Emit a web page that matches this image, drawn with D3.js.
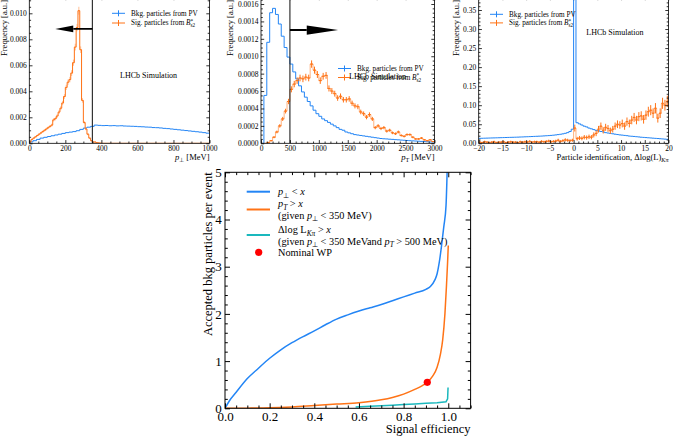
<!DOCTYPE html>
<html>
<head>
<meta charset="utf-8">
<script src="https://cdn.jsdelivr.net/npm/d3@7"></script>
<style>
  body { margin: 0; background: #fff; }
  svg { font-family: "Liberation Serif", "Times New Roman", serif; }
</style>
</head>
<body>
<div id="chart"></div>
<script>
// ---------------- data ----------------
// p_perp [MeV], bkg: 20 MeV bins from 0, sig: 10 MeV bins from 0
const pperpBkg = [
  0.0001, 0.0002, 0.0003, 0.0004, 0.00046, 0.00052, 0.00058, 0.00064, 0.0007, 0.00076,
  0.00082, 0.00086, 0.0009, 0.00097, 0.00107, 0.00117, 0.00124, 0.0013, 0.0014, 0.00138,
  0.00136, 0.00137, 0.00135, 0.00136, 0.00134, 0.00135, 0.00133, 0.00132, 0.00131, 0.0013,
  0.00128, 0.00127, 0.00125, 0.00124, 0.00121, 0.0012, 0.00118, 0.00115, 0.00113, 0.0011,
  0.00107, 0.00104, 0.00101, 0.00098, 0.00095, 0.00092, 0.00089, 0.00086, 0.00082, 0.00078
];
const pperpSig = [
  0.0001, 0.0003, 0.0004, 0.0005, 0.0006, 0.0007, 0.0008, 0.0009, 0.0010, 0.0011,
  0.0012, 0.0013, 0.0014, 0.0018, 0.0019, 0.0021, 0.0024, 0.0027, 0.0031, 0.0036,
  0.0043, 0.0047, 0.0049, 0.0054, 0.0062, 0.0074, 0.0089, 0.0102, 0.0072, 0.0033,
  0.0016, 0.0011, 0.0007, 0.0004, 0.0002, 0.0001, 0.0001, 0.00005, 0.00003, 0.00001,
  0, 0, 0, 0, 0, 0, 0, 0, 0, 0,
  0, 0, 0, 0, 0, 0, 0, 0, 0, 0,
  0, 0, 0, 0, 0, 0, 0, 0, 0, 0,
  0, 0, 0, 0, 0, 0, 0, 0, 0, 0,
  0, 0, 0, 0, 0, 0, 0, 0, 0, 0,
  0, 0, 0, 0, 0, 0, 0, 0, 0, 0
];
// p_T [MeV], 50 MeV bins from 0
const ptBkg = [
  0, 0.00055, 0.00116, 0.0015, 0.00155, 0.00148, 0.00137, 0.00123, 0.0011, 0.00099,
  0.00091, 0.00082, 0.00074, 0.00066, 0.00059, 0.00053, 0.00048, 0.00043, 0.00038, 0.00034,
  0.00031, 0.00028, 0.00026, 0.00024, 0.00022, 0.0002, 0.00018, 0.00016, 0.00015, 0.00013,
  0.00012, 0.00011, 0.0001, 0.000095, 0.00009, 0.000085, 0.00008, 0.000075, 0.00007, 0.000065,
  0.00006, 0.000055, 0.000052, 0.00005, 0.000047, 0.000045, 0.000042, 0.00004, 0.000037, 0.000035,
  0.000032, 0.00003, 0.000028, 0.000026, 0.000024, 0.000022, 0.00002, 0.000018, 0.000016, 0.000015
];
const ptSig = [
  0, 0, 0.00001, 0.00003, 0.00007, 0.00013, 0.0002, 0.00028, 0.00037, 0.00048,
  0.00062, 0.00068, 0.00072, 0.00075, 0.00074, 0.00076, 0.00075, 0.00091, 0.00084, 0.00079,
  0.00072, 0.00077, 0.00078, 0.00063, 0.0006, 0.00057, 0.00052, 0.00054, 0.0005, 0.0005,
  0.00051, 0.00046, 0.00043, 0.00042, 0.00036, 0.00034, 0.0003, 0.00033, 0.00028, 0.00018,
  0.0002, 0.00017, 0.00018, 0.00014, 0.00015, 0.00012, 0.00011, 0.00013, 0.00009, 0.00008,
  0.0001, 0.0001, 0.00007, 0.00005, 0.00005, 0.00006, 0.00004, 0.00003, 0.00004, 0.00002
];
// Delta log L(K-pi), 0.5 bins from -20
const pidBkg = [
  0.0130, 0.0132, 0.0134, 0.0136, 0.0138, 0.0140, 0.0142, 0.0144, 0.0146, 0.0148,
  0.0150, 0.0152, 0.0154, 0.0156, 0.0158, 0.0160, 0.0162, 0.0165, 0.0167, 0.0170,
  0.0172, 0.0175, 0.0178, 0.0181, 0.0184, 0.0187, 0.0190, 0.0194, 0.0198, 0.0202,
  0.0207, 0.0213, 0.0220, 0.0228, 0.0237, 0.0248, 0.0262, 0.0280, 0.0310, 0.0370,
  0.5, 0.054, 0.051, 0.048, 0.045, 0.043, 0.040, 0.038, 0.036, 0.034,
  0.033, 0.031, 0.030, 0.028, 0.027, 0.026, 0.025, 0.024, 0.023, 0.022,
  0.0215, 0.0207, 0.020, 0.019, 0.0185, 0.018, 0.0173, 0.0167, 0.016, 0.0155,
  0.015, 0.0145, 0.014, 0.0135, 0.013, 0.0125, 0.012, 0.0115, 0.011, 0.0105
];
const pidSig = [
  0.003, 0.002, 0.004, 0.003, 0.002, 0.003, 0.004, 0.002, 0.003, 0.003,
  0.004, 0.002, 0.003, 0.004, 0.003, 0.003, 0.002, 0.004, 0.003, 0.004,
  0.003, 0.005, 0.003, 0.004, 0.004, 0.003, 0.005, 0.004, 0.005, 0.006,
  0.004, 0.005, 0.006, 0.008, 0.005, 0.007, 0.009, 0.008, 0.007, 0.008,
  0.040, 0.012, 0.014, 0.013, 0.016, 0.015, 0.017, 0.016, 0.022, 0.026,
  0.037, 0.045, 0.034, 0.042, 0.039, 0.033, 0.037, 0.045, 0.050, 0.048,
  0.052, 0.045, 0.057, 0.052, 0.061, 0.068, 0.061, 0.070, 0.072, 0.063,
  0.074, 0.083, 0.087, 0.079, 0.092, 0.066, 0.079, 0.105, 0.100, 0.110
];
// cuts
const pperpCut = 350, ptCut = 500;

// ROC-like curves: signal efficiency vs accepted bkg per event
const effPperp = [0, 0.02, 0.05, 0.1, 0.15, 0.2, 0.25, 0.3, 0.35, 0.4, 0.45, 0.5, 0.55, 0.6, 0.65, 0.7, 0.75, 0.8, 0.85, 0.9, 0.92, 0.94, 0.95, 0.96, 0.97, 0.98, 0.99, 0.996];
const bkgPperp = [0, 0.16, 0.34, 0.63, 0.85, 1.06, 1.24, 1.39, 1.52, 1.64, 1.77, 1.89, 1.98, 2.06, 2.13, 2.2, 2.28, 2.36, 2.44, 2.52, 2.58, 2.72, 2.85, 3.1, 3.45, 3.85, 4.3, 5.2];
const effPt = [0, 0.1, 0.2, 0.3, 0.4, 0.5, 0.6, 0.7, 0.75, 0.8, 0.85, 0.88, 0.906, 0.93, 0.95, 0.965, 0.975, 0.985, 0.992, 0.997, 1.0];
const bkgPt = [0, 0.003, 0.01, 0.03, 0.06, 0.09, 0.12, 0.18, 0.23, 0.3, 0.4, 0.47, 0.55, 0.68, 0.87, 1.15, 1.45, 2.0, 2.6, 3.1, 3.45];
const effPid = [0.585, 0.65, 0.7, 0.75, 0.8, 0.85, 0.9, 0.95, 0.99, 0.997, 0.999];
const bkgPid = [0.03, 0.045, 0.055, 0.065, 0.08, 0.092, 0.105, 0.12, 0.14, 0.2, 0.44];
const wpEff = 0.906, wpBkg = 0.55;

// ---------------- drawing ----------------
const cBlue = '#2385f5', cOrange = '#ff7316', cTeal = '#1ab8bd', cRed = '#ff0000';
const svg = d3.select('#chart').append('svg').attr('width', 673).attr('height', 436);

function tickVals(dom, step) {
  const out = [];
  const n0 = Math.ceil(dom[0] / step - 1e-6), n1 = Math.floor(dom[1] / step + 1e-6);
  for (let i = n0; i <= n1; i++) out.push(+(i * step).toPrecision(10));
  return out;
}

// rich text with italics / sub / superscripts
function rich(sel, parts, fs) {
  let shift = 0;
  parts.forEach(p => {
    const ts = sel.append('tspan').text(p.t);
    if (p.i) ts.attr('font-style', 'italic');
    const want = p.sub ? fs * 0.28 : p.sup ? -fs * 0.38 : 0;
    if (want !== shift) { ts.attr('dy', want - shift); shift = want; }
    if (p.sub || p.sup) ts.attr('font-size', fs * 0.72);
    if (p.dx) ts.attr('dx', p.dx);
  });
  return sel;
}

function drawAxes(g, x, y, o) {
  const xd = x.domain(), yd = [y.invert(o.bottom), y.invert(o.top)];
  const xMaj = tickVals(xd, o.xMaj), yMaj = tickVals(yd, o.yMaj);
  const xMin = tickVals(xd, o.xMin).filter(v => !xMaj.some(m => Math.abs(m - v) < o.xMin / 100));
  const yMin = tickVals(yd, o.yMin).filter(v => !yMaj.some(m => Math.abs(m - v) < o.yMin / 100));
  const style = s => {
    s.select('.domain').remove();
    s.attr('font-family', null).attr('font-size', o.fs);
    s.selectAll('line').attr('stroke-width', o.sw);
    s.selectAll('text').attr('fill', '#000');
  };
  const mk = (axis, vals, len, fmt, pad) => axis.tickValues(vals).tickSize(-len).tickPadding(pad).tickFormat(fmt);
  const none = () => '';
  // bottom
  g.append('g').attr('transform', `translate(0,${o.bottom})`).call(mk(d3.axisBottom(x), xMaj, o.tMaj, o.xFmt, o.xPad)).call(style);
  g.append('g').attr('transform', `translate(0,${o.bottom})`).call(mk(d3.axisBottom(x), xMin, o.tMin, none, 0)).call(style);
  // top
  g.append('g').attr('transform', `translate(0,${o.top})`).call(mk(d3.axisTop(x), xMaj, o.tMaj, none, 0)).call(style);
  g.append('g').attr('transform', `translate(0,${o.top})`).call(mk(d3.axisTop(x), xMin, o.tMin, none, 0)).call(style);
  // left
  g.append('g').attr('transform', `translate(${o.left},0)`).call(mk(d3.axisLeft(y), yMaj, o.tMaj, o.yFmt, o.yPad)).call(style);
  g.append('g').attr('transform', `translate(${o.left},0)`).call(mk(d3.axisLeft(y), yMin, o.tMin, none, 0)).call(style);
  // right
  g.append('g').attr('transform', `translate(${o.right},0)`).call(mk(d3.axisRight(y), yMaj, o.tMaj, none, 0)).call(style);
  g.append('g').attr('transform', `translate(${o.right},0)`).call(mk(d3.axisRight(y), yMin, o.tMin, none, 0)).call(style);
  g.append('rect').attr('x', o.left).attr('y', o.top)
    .attr('width', o.right - o.left).attr('height', o.bottom - o.top)
    .attr('fill', 'none').attr('stroke', '#000').attr('stroke-width', o.sw);
}

function histPanel(o) {
  const g = svg.append('g');
  const x = d3.scaleLinear().domain(o.xDom).range([o.left, o.right]);
  const y = d3.scaleLinear().domain([0, o.yRef]).range([o.bottom, o.yRefPx]);
  const clipId = 'clip-' + o.id;
  g.append('clipPath').attr('id', clipId).append('rect')
    .attr('x', o.left).attr('y', o.top).attr('width', o.right - o.left).attr('height', o.bottom - o.top);
  const plot = g.append('g').attr('clip-path', `url(#${clipId})`);

  const stepLine = d3.line().x(d => x(d[0])).y(d => y(d[1])).curve(d3.curveStepAfter);
  const stepPts = h => {
    const pts = h.vals.map((v, i) => [h.start + i * h.w, v]);
    pts.push([h.start + h.vals.length * h.w, h.vals[h.vals.length - 1]]);
    return pts;
  };

  // background (blue) histogram
  plot.append('path').datum(stepPts(o.bkg)).attr('d', stepLine)
    .attr('fill', 'none').attr('stroke', cBlue).attr('stroke-width', 1);

  // signal (orange) histogram + error bars
  plot.append('path').datum(stepPts(o.sig)).attr('d', stepLine)
    .attr('fill', 'none').attr('stroke', cOrange).attr('stroke-width', 1).attr('opacity', o.sigLineOp);
  const eb = plot.append('g').attr('stroke', cOrange).attr('stroke-width', 1).attr('opacity', o.errOp);
  o.sig.vals.forEach((v, i) => {
    if (v <= 0) return;
    const c = o.sig.start + (i + 0.5) * o.sig.w;
    const e = o.sig.errK * Math.sqrt(v);
    eb.append('line').attr('x1', x(c)).attr('x2', x(c)).attr('y1', y(v - e)).attr('y2', y(v + e));
    eb.append('line').attr('x1', x(c - o.sig.w / 2)).attr('x2', x(c + o.sig.w / 2)).attr('y1', y(v)).attr('y2', y(v));
  });

  // cut line and arrow
  if (o.cut !== undefined) {
    plot.append('line').attr('x1', x(o.cut)).attr('x2', x(o.cut)).attr('y1', o.top).attr('y2', o.bottom)
      .attr('stroke', '#222').attr('stroke-width', 1.1);
    const a = o.arrow;
    const ay = y(a.y), xs = x(o.cut), xb = x(a.base), xt = x(a.tip);
    plot.append('line').attr('x1', xs).attr('x2', xb).attr('y1', ay).attr('y2', ay)
      .attr('stroke', '#000').attr('stroke-width', a.sw);
    plot.append('path').attr('d', `M${xb},${ay - a.hh}L${xt},${ay}L${xb},${ay + a.hh}Z`).attr('fill', '#000');
  }

  drawAxes(g, x, y, {
    left: o.left, right: o.right, top: o.top, bottom: o.bottom,
    xMaj: o.xMaj, xMin: o.xMin, yMaj: o.yMaj, yMin: o.yMin,
    xFmt: o.xFmt, yFmt: o.yFmt, tMaj: 3.2, tMin: 1.8, xPad: 2.2, yPad: 2.5, fs: 7.5, sw: 0.8
  });

  // axis labels
  g.append('text').attr('transform', `translate(${o.yLabX},${o.top + 3}) rotate(-90)`)
    .attr('text-anchor', 'end').attr('font-size', 8.5).text('Frequency [a.u.]');
  rich(g.append('text').attr('x', o.right).attr('y', 159.5).attr('text-anchor', 'end').attr('font-size', 8.5), o.xLabel, 8.5);

  // legend
  const lg = g.append('g').attr('font-size', 7.2);
  const entries = [
    { c: cBlue, parts: [{ t: 'Bkg. particles from PV' }] },
    { c: cOrange, parts: [{ t: 'Sig. particles from ' }, { t: 'B', i: true }, { t: '*', sup: true }, { t: 's2', sub: true, dx: -2.6 }] }
  ];
  entries.forEach((en, k) => {
    const yy = o.leg.y + k * o.leg.dy;
    lg.append('line').attr('x1', o.leg.x).attr('x2', o.leg.x + 13).attr('y1', yy).attr('y2', yy)
      .attr('stroke', en.c).attr('stroke-width', 1);
    lg.append('line').attr('x1', o.leg.x + 6.5).attr('x2', o.leg.x + 6.5).attr('y1', yy - 3).attr('y2', yy + 3)
      .attr('stroke', en.c).attr('stroke-width', 1);
    rich(lg.append('text').attr('x', o.leg.x + 19).attr('y', yy + 2.4), en.parts, 7.2);
  });
  g.append('text').attr('x', o.lhcb[0]).attr('y', o.lhcb[1] + 2.8).attr('font-size', 8).text('LHCb Simulation');
}

histPanel({
  id: 'pperp', left: 29.3, right: 209.5, top: -3, bottom: 143.3,
  xDom: [0, 1000], yRef: 0.010, yRefPx: 13.3,
  xMaj: 200, xMin: 50, yMaj: 0.002, yMin: 0.0005,
  xFmt: d3.format('d'), yFmt: d3.format('.3f'),
  bkg: { vals: pperpBkg, start: 0, w: 20 },
  sig: { vals: pperpSig, start: 0, w: 10, errK: 0.003 },
  sigLineOp: 1, errOp: 0.45,
  cut: pperpCut, arrow: { y: 0.0088, base: 244, tip: 144, hh: 3.3, sw: 1.8 },
  yLabX: 6.8,
  xLabel: [{ t: 'p', i: true }, { t: '⊥', sub: true }, { t: ' [MeV]' }],
  leg: { x: 112, y: 13.3, dy: 9.7 }, lhcb: [120, 75]
});

histPanel({
  id: 'pt', left: 261, right: 434.5, top: -3, bottom: 143.3,
  xDom: [0, 3000], yRef: 0.0016, yRefPx: 4,
  xMaj: 500, xMin: 100, yMaj: 0.0002, yMin: 0.00005,
  xFmt: d3.format('d'), yFmt: d3.format('.4f'),
  bkg: { vals: ptBkg, start: 0, w: 50 },
  sig: { vals: ptSig, start: 0, w: 50, errK: 0.0014 },
  sigLineOp: 0.55, errOp: 1,
  cut: ptCut, arrow: { y: 0.0013, base: 791, tip: 1333, hh: 4.6, sw: 2 },
  yLabX: 232.7,
  xLabel: [{ t: 'p', i: true }, { t: 'T', sub: true }, { t: ' [MeV]' }],
  leg: { x: 338, y: 68.5, dy: 9 }, lhcb: [349, 76]
});

histPanel({
  id: 'pid', left: 478.7, right: 668.5, top: -3, bottom: 143.3,
  xDom: [-20, 20], yRef: 0.35, yRefPx: 10,
  xMaj: 5, xMin: 1, yMaj: 0.05, yMin: 0.01,
  xFmt: d3.format('d'), yFmt: d3.format('.2f'),
  bkg: { vals: pidBkg, start: -20, w: 0.5 },
  sig: { vals: pidSig, start: -20, w: 0.5, errK: 0.045 },
  sigLineOp: 0.55, errOp: 1,
  yLabX: 458.7,
  xLabel: [{ t: 'Particle identification, Δlog(L)' }, { t: 'Kπ', sub: true, i: true }],
  leg: { x: 490, y: 14.3, dy: 8.6 }, lhcb: [586.3, 32.3]
});

// ---------------- bottom: bkg vs signal efficiency ----------------
(function () {
  const o = { left: 225, right: 470.6, top: 172.3, bottom: 408.3 };
  const g = svg.append('g');
  const x = d3.scaleLinear().domain([0, 1.1]).range([o.left, o.right]);
  const y = d3.scaleLinear().domain([0, 5]).range([o.bottom, o.top]);
  g.append('clipPath').attr('id', 'clip-roc').append('rect')
    .attr('x', o.left).attr('y', o.top).attr('width', o.right - o.left).attr('height', o.bottom - o.top);
  const plot = g.append('g').attr('clip-path', 'url(#clip-roc)');

  const curve = (xs, ys, c, cv) => plot.append('path')
    .datum(xs.map((v, i) => [v, ys[i]]))
    .attr('d', d3.line().x(d => x(d[0])).y(d => y(d[1])).curve(cv))
    .attr('fill', 'none').attr('stroke', c).attr('stroke-width', 1.5);
  curve(effPperp, bkgPperp, cBlue, d3.curveMonotoneX);
  curve(effPt, bkgPt, cOrange, d3.curveMonotoneX);
  curve(effPid, bkgPid, cTeal, d3.curveLinear);
  plot.append('circle').attr('cx', x(wpEff)).attr('cy', y(wpBkg)).attr('r', 3.6).attr('fill', cRed);

  drawAxes(g, x, y, {
    left: o.left, right: o.right, top: o.top, bottom: o.bottom,
    xMaj: 0.2, xMin: 0.05, yMaj: 1, yMin: 0.2,
    xFmt: d3.format('.1f'), yFmt: d3.format('d'), tMaj: 5, tMin: 2.8, xPad: 3.5, yPad: 3.3, fs: 13, sw: 1
  });

  g.append('text').attr('x', o.right).attr('y', 432.5).attr('text-anchor', 'end')
    .attr('font-size', 12.5).text('Signal efficiency');
  g.append('text').attr('transform', `translate(211.5,${o.top}) rotate(-90)`).attr('text-anchor', 'end')
    .attr('font-size', 12.5).text('Accepted bkg particles per event');

  // legend
  const fs = 10.3, lx = 246.7, tx = 278;
  const lg = g.append('g').attr('font-size', fs);
  const hline = (yy, c) => lg.append('line').attr('x1', lx).attr('x2', lx + 23.3).attr('y1', yy).attr('y2', yy)
    .attr('stroke', c).attr('stroke-width', 2);
  const txt = (yy, parts) => rich(lg.append('text').attr('x', tx).attr('y', yy + 3.6), parts, fs);
  const pperp = [{ t: 'p', i: true }, { t: '⊥', sub: true }];
  const pt = [{ t: 'p', i: true }, { t: 'T', sub: true, i: true }];
  hline(191.7, cBlue);
  txt(191.7, [...pperp, { t: ' < ' }, { t: 'x', i: true }]);
  hline(209.5, cOrange);
  txt(203.3, [...pt, { t: ' > ' }, { t: 'x', i: true }]);
  txt(215, [{ t: '(given ' }, ...pperp, { t: ' < 350 MeV)' }]);
  hline(235, cTeal);
  txt(229.3, [{ t: 'Δlog L' }, { t: 'Kπ', sub: true, i: true }, { t: ' > ' }, { t: 'x', i: true }]);
  txt(241, [{ t: '(given ' }, ...pperp, { t: ' < 350 MeVand ' }, ...pt, { t: ' > 500 MeV)' }]);
  lg.append('circle').attr('cx', lx + 12).attr('cy', 252.3).attr('r', 3.6).attr('fill', cRed);
  txt(252.3, [{ t: 'Nominal WP' }]);
})();
</script>
</body>
</html>
